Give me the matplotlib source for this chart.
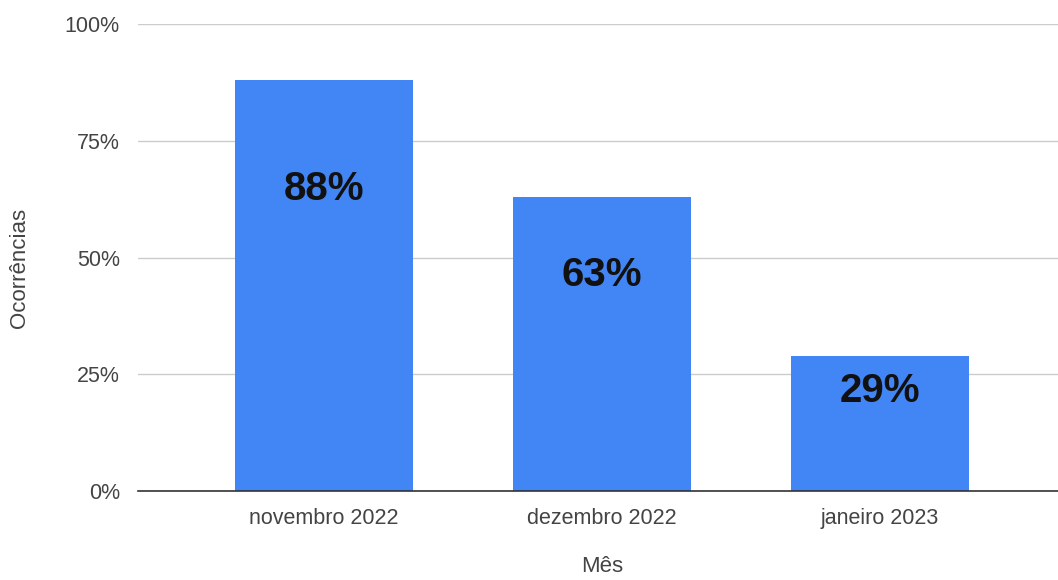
import matplotlib
matplotlib.use("Agg")
import matplotlib.pyplot as plt
from matplotlib.ticker import FixedLocator, FuncFormatter

# Chart data
months = ["novembro 2022", "dezembro 2022", "janeiro 2023"]
occurrences = [88, 63, 29]
y_ticks = [0, 25, 50, 75, 100]

plt.rcParams["font.family"] = ["Liberation Sans", "DejaVu Sans"]

BLUE = "#4285F4"
TEXT = "#444444"

fig = plt.figure(figsize=(10.58, 5.8), dpi=100)
ax = fig.add_axes([0.1304, 0.1534, 0.8696, 0.8052])

x = list(range(len(months)))
bars = ax.bar(x, occurrences, width=0.64, color=BLUE, zorder=3)

# Value labels inside the bars, in the upper part
for xi, v in zip(x, occurrences):
    ax.text(xi, v * 0.735, f"{v}%", ha="center", va="center",
            fontsize=29, fontweight="bold", color="#111111", zorder=4)

ax.set_ylim(0, 100)
ax.set_xlim(-0.67, 2.64)
ax.yaxis.set_major_locator(FixedLocator(y_ticks))
ax.yaxis.set_major_formatter(FuncFormatter(lambda v, _: f"{v:.0f}%"))
ax.set_xticks(x)
ax.set_xticklabels(months)

ax.grid(axis="y", color="#cccccc", linewidth=1.0, zorder=0)
ax.grid(axis="x", visible=False)
for side in ["top", "right", "left"]:
    ax.spines[side].set_visible(False)
ax.spines["bottom"].set_color("#333333")
ax.spines["bottom"].set_linewidth(1.2)
ax.spines["bottom"].set_zorder(5)

ax.tick_params(axis="both", length=0, labelsize=15.5, labelcolor=TEXT)
ax.tick_params(axis="y", pad=13)
ax.tick_params(axis="x", pad=12)

# Axis titles
fig.text(20 / 1058, 1 - 268 / 580, "Ocorrências", rotation=90,
         ha="center", va="center", fontsize=16, color=TEXT)
fig.text(602 / 1058, 1 - 567 / 580, "Mês",
         ha="center", va="center", fontsize=16, color=TEXT)

fig.savefig("out.png", dpi=100, facecolor="white")
